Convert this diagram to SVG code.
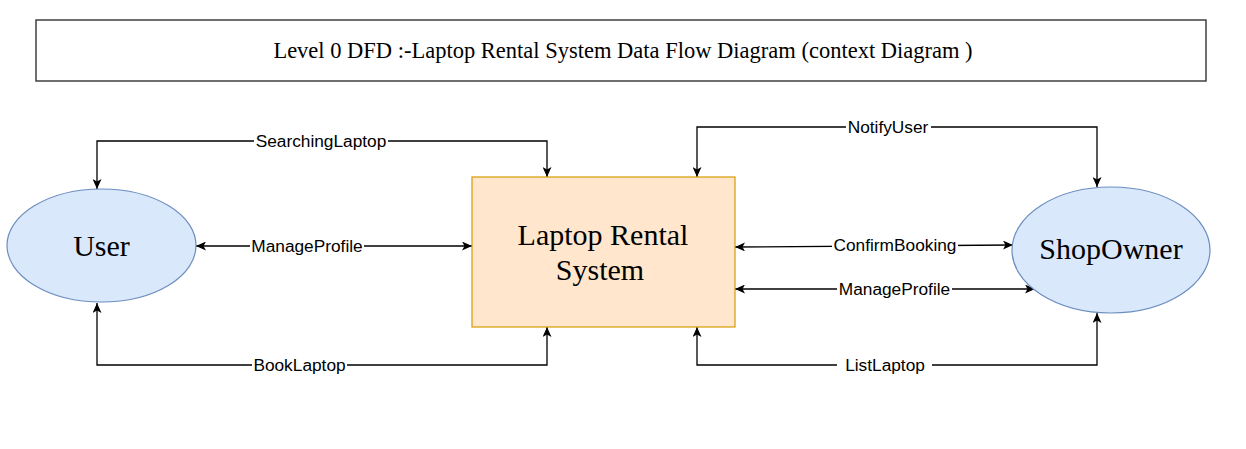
<svg xmlns="http://www.w3.org/2000/svg" width="1246" height="449" viewBox="0 0 1246 449">
  <style>
    .edge { fill: none; stroke: #000; stroke-width: 1.3; marker-start: url(#arr); marker-end: url(#arr); }
    .lbl { font-family: "Liberation Sans", Arial, sans-serif; font-size: 17.3px; fill: #000; text-anchor: middle; }
    .lblbg { fill: #fff; }
    .big { font-family: "Liberation Serif", "Times New Roman", serif; font-size: 30px; fill: #000; text-anchor: middle; }
    .ent { fill: #dae8fc; stroke: #6c8ebf; stroke-width: 1.2; }
  </style>
  <defs>
    <marker id="arr" viewBox="0 0 10 9" refX="10" refY="4.5" markerWidth="10" markerHeight="9" markerUnits="userSpaceOnUse" orient="auto-start-reverse">
      <path d="M0,0 L10,4.5 L0,9 L2.5,4.5 Z" fill="#000"/>
    </marker>
  </defs>
  <rect width="1246" height="449" fill="#fff"/>

  <g id="title">
    <rect x="36" y="20" width="1170" height="61" fill="#fff" stroke="#333" stroke-width="1.4"/>
    <text x="623" y="58" font-family="'Liberation Serif', 'Times New Roman', serif" font-size="22.5" text-anchor="middle">Level 0 DFD :-Laptop Rental System Data Flow Diagram (context Diagram )</text>
  </g>

  <g id="connectors">
    <path id="e-searching" class="edge" d="M547,177 L547,141 L97,141 L97,189"/>
    <path id="e-manage-left" class="edge" d="M196,246 L472,246"/>
    <path id="e-book" class="edge" d="M97,303 L97,365 L547,365 L547,327"/>
    <path id="e-notify" class="edge" d="M697,177 L697,127 L1097,127 L1097,187"/>
    <path id="e-confirm" class="edge" d="M735,247 L1013,245"/>
    <path id="e-manage-right" class="edge" d="M735,289 L1035,289"/>
    <path id="e-list" class="edge" d="M697,327 L697,365 L1097,365 L1097,313"/>

    <rect class="lblbg" x="254" y="132" width="134" height="18"/>
    <text class="lbl" x="321" y="147">SearchingLaptop</text>
    <rect class="lblbg" x="250" y="237" width="114" height="18"/>
    <text class="lbl" x="307" y="252">ManageProfile</text>
    <rect class="lblbg" x="252" y="356" width="95" height="18"/>
    <text class="lbl" x="299.5" y="371">BookLaptop</text>
    <rect class="lblbg" x="846" y="118" width="85" height="18"/>
    <text class="lbl" x="888" y="133">NotifyUser</text>
    <rect class="lblbg" x="832" y="236" width="126" height="18"/>
    <text class="lbl" x="895" y="251">ConfirmBooking</text>
    <rect class="lblbg" x="837" y="280" width="115" height="18"/>
    <text class="lbl" x="894.5" y="295">ManageProfile</text>
    <rect class="lblbg" x="837" y="356" width="95" height="18"/>
    <text class="lbl" x="885" y="371">ListLaptop</text>
  </g>

  <g id="node-user">
    <ellipse class="ent" cx="101.5" cy="245.5" rx="94.5" ry="56.5"/>
    <text class="big" x="101.5" y="256">User</text>
  </g>

  <g id="node-system">
    <rect x="472" y="177" width="263" height="150" fill="#ffe6cc" stroke="#d79b00" stroke-width="1.2"/>
    <text class="big" x="603" y="245">Laptop Rental</text>
    <text class="big" x="600" y="280">System</text>
  </g>

  <g id="node-shopowner">
    <ellipse class="ent" cx="1111" cy="250" rx="99" ry="63"/>
    <text class="big" x="1111" y="259">ShopOwner</text>
  </g>
</svg>
